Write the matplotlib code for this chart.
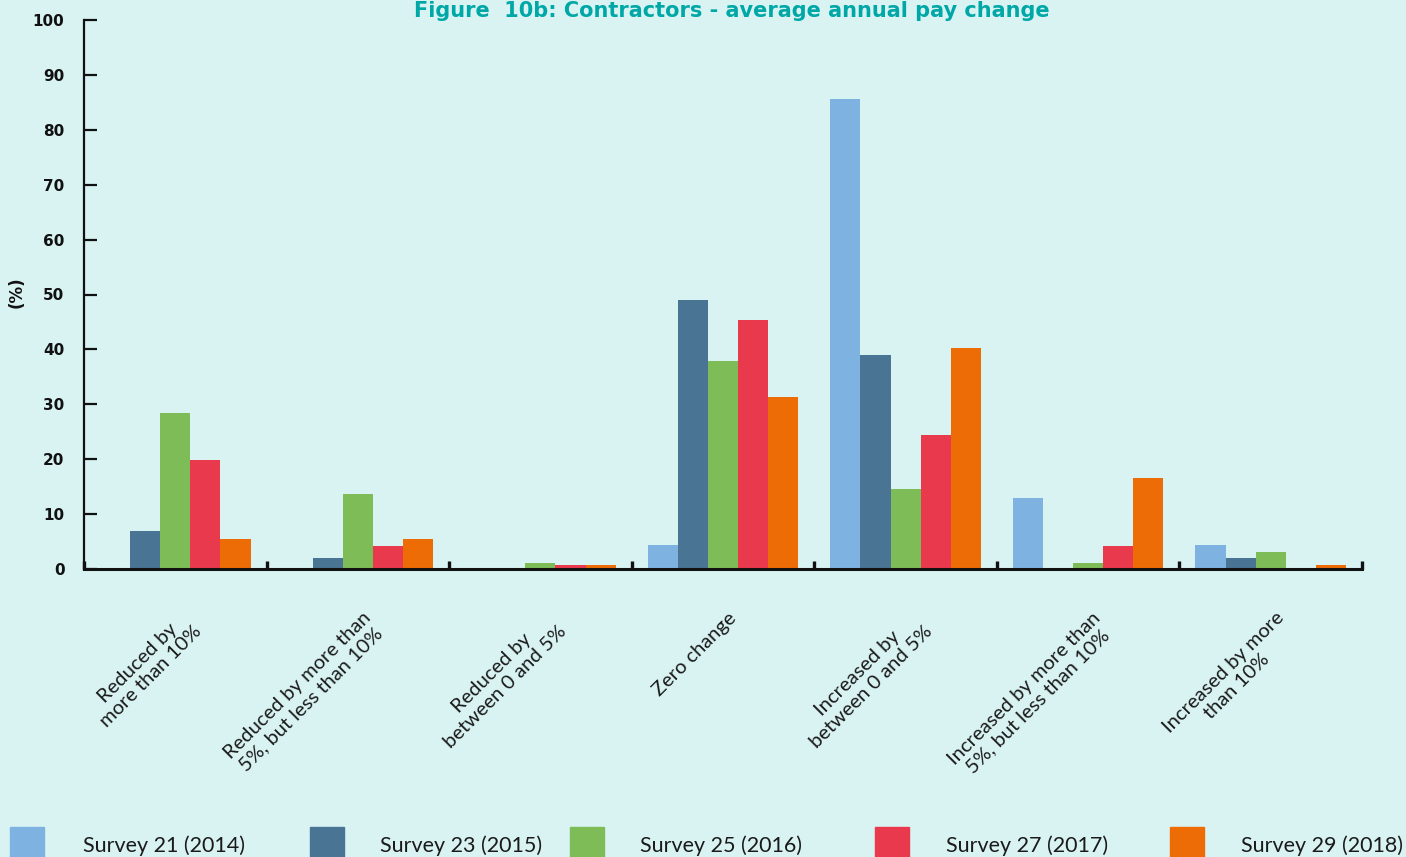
import matplotlib
matplotlib.use("Agg")
import matplotlib.pyplot as plt
import numpy as np
from matplotlib.patches import Rectangle
from matplotlib.transforms import ScaledTranslation

categories = [
    "Reduced by\nmore than 10%",
    "Reduced by more than\n5%, but less than 10%",
    "Reduced by\nbetween 0 and 5%",
    "Zero change",
    "Increased by\nbetween 0 and 5%",
    "Increased by more than\n5%, but less than 10%",
    "Increased by more\nthan 10%",
]
series_names = ["Survey 21 (2014)", "Survey 23 (2015)", "Survey 25 (2016)",
                "Survey 27 (2017)", "Survey 29 (2018)"]
survey21 = [0.0, 0.0, 0.0, 4.4, 85.6, 12.9, 4.4]
survey23 = [6.9, 2.0, 0.0, 49.0, 39.0, 0.0, 2.0]
survey25 = [28.4, 13.7, 1.1, 37.9, 14.6, 1.1, 3.1]
survey27 = [19.9, 4.2, 0.7, 45.4, 24.4, 4.2, 0.0]
survey29 = [5.5, 5.5, 0.7, 31.3, 40.3, 16.6, 0.7]
series_values = [survey21, survey23, survey25, survey27, survey29]
colors = ["#7EB3E1", "#4A7494", "#7DBC57", "#E93A4D", "#EE6C05"]
title = "Figure  10b: Contractors - average annual pay change"
yticks = [0, 10, 20, 30, 40, 50, 60, 70, 80, 90, 100]

BG = "#D9F3F3"
BOLD = "DejaVu Sans"
REG = "Lato"
W, H = 1406, 857
fig = plt.figure(figsize=(W / 100, H / 100), dpi=100, facecolor=BG)
ax = fig.add_axes([84 / W, 1 - 569 / H, (1362 - 84) / W, (569 - 20) / H])
ax.set_facecolor(BG)

n = len(series_names)
x = np.arange(len(categories))
bw = 0.165
for i, (vals, c) in enumerate(zip(series_values, colors)):
    ax.bar(x + (i - (n - 1) / 2) * bw, vals, width=bw, color=c, zorder=2)

ax.set_xlim(-0.5, len(categories) - 0.5)
ax.set_ylim(0, 100)
for s in ["top", "right"]:
    ax.spines[s].set_visible(False)
ax.spines["left"].set_linewidth(1.6)
ax.spines["bottom"].set_linewidth(2.2)
ax.spines["left"].set_color("#111111")
ax.spines["bottom"].set_color("#111111")
ax.spines["bottom"].set_zorder(3)

ax.set_yticks(yticks)
ax.set_yticklabels([str(v) for v in yticks], fontfamily=BOLD, fontweight="bold",
                   fontsize=11, color="#111111")
ax.tick_params(axis="y", direction="in", length=9.5, width=1.6, pad=14, colors="#111111")

ax.set_xticks(x)
ax.set_xticklabels([])
ax.tick_params(axis="x", which="major", length=0)
ax.set_xticks(np.arange(-0.5, len(categories) + 0.5, 1.0), minor=True)
ax.tick_params(axis="x", which="minor", direction="in", length=6, width=2.4, colors="#111111")

ax.set_ylabel("(%)", fontfamily=BOLD, fontweight="bold", fontsize=12, color="#111111")
ax.yaxis.set_label_coords(-58 / (1362 - 84), 0.505)

offset = ScaledTranslation(4 / 100, -40 / 100, fig.dpi_scale_trans)
for xi, cat in zip(x, categories):
    ax.text(xi, 0, cat, rotation=45, ha="right", va="top", rotation_mode="anchor",
            multialignment="center", fontfamily=REG, fontsize=14.5, color="#1a1a1a",
            linespacing=1.15, transform=ax.get_xaxis_transform() + offset)

fig.text(732 / W, 1 - 1 / H, title, ha="center", va="top", fontfamily=BOLD,
         fontweight="bold", fontsize=15, color="#00A7A7")

patch_x = [10, 310, 570, 875, 1170]
text_x = [83, 380, 640, 946, 1241]
for px, tx, name, c in zip(patch_x, text_x, series_names, colors):
    fig.patches.append(Rectangle((px / W, 0), 34 / W, 30 / H, transform=fig.transFigure,
                                 color=c, zorder=1))
    fig.text(tx / W, 1 - 846 / H, name, ha="left", va="center", fontfamily="Lato",
             fontsize=15.5, color="#1a1a1a")

fig.savefig("out.png", dpi=100, facecolor=BG)
